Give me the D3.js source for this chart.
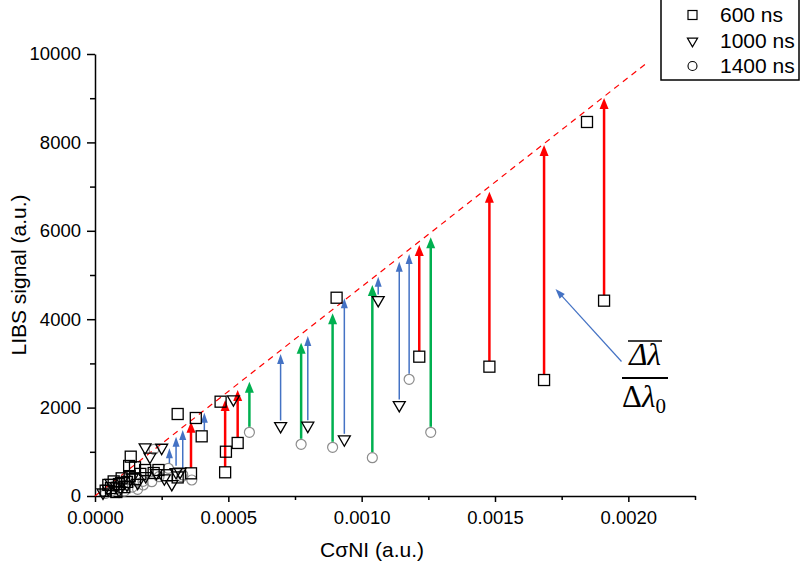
<!DOCTYPE html>
<html>
<head>
<meta charset="utf-8">
<script src="https://cdn.jsdelivr.net/npm/d3@7"></script>
<style>
  body { margin: 0; background: #fff; }
  svg { display: block; font-family: "Liberation Sans", Arial, sans-serif; }
</style>
</head>
<body>
<div id="chart"></div>
<script>
// 600 ns squares
const sqX = [0.000040, 0.000050, 0.000060, 0.000070, 0.000080, 0.000090, 0.000100, 0.000110, 0.000120, 0.000130,
  0.000150, 0.000170, 0.000220, 0.000270, 0.000310, 0.000134, 0.000128, 0.000188, 0.000238, 0.000150,
  0.000310, 0.000378, 0.000360, 0.000400, 0.000471, 0.000488, 0.000491, 0.000535, 0.000906, 0.001216,
  0.001479, 0.001684, 0.001845, 0.001909];
const sqY = [120, 250, 180, 330, 90, 270, 400, 200, 320, 450,
  380, 500, 520, 470, 420, 890, 679, 588, 588, 650,
  1855, 1765, 513, 1350, 2134, 536, 1002, 1200, 4486, 3152,
  2926, 2624, 8462, 4419];

// 1000 ns triangles
const triX = [0.000030, 0.000050, 0.000060, 0.000080, 0.000090, 0.000100, 0.000120, 0.000140, 0.000160, 0.000190,
  0.000188, 0.000250, 0.000206, 0.000288, 0.000319, 0.000230, 0.000304, 0.000260,
  0.000519, 0.000696, 0.000798, 0.000935, 0.001062, 0.001141];
const triY = [80, 160, 300, 220, 130, 340, 260, 420, 300, 450,
  1102, 1093, 890, 271, 550, 520, 540, 400,
  2188, 1584, 1591, 1283, 4434, 2059];

// 1400 ns circles
const cirX = [0.000040, 0.000060, 0.000070, 0.000090, 0.000110, 0.000120, 0.000140, 0.000160, 0.000180, 0.000181,
  0.000213, 0.000240, 0.000221, 0.000275, 0.000363, 0.000325, 0.000329,
  0.000579, 0.000773, 0.000891, 0.001040, 0.001178, 0.001259];
const cirY = [60, 100, 220, 160, 110, 380, 200, 150, 330, 249,
  324, 437, 1057, 627, 362, 437, 480,
  1441, 1170, 1102, 867, 2640, 1441];

// arrows: x, start value, end value
const redX = [0.000360, 0.000488, 0.000535, 0.001216, 0.001479, 0.001684, 0.001909];
const redY0 = [513, 536, 1207, 3152, 2926, 2624, 4419];
const redY1 = [1681, 2172, 2398, 5679, 6885, 7941, 9005];

const greenX = [0.000579, 0.000773, 0.000891, 0.001040, 0.001259];
const greenY0 = [1441, 1170, 1102, 867, 1441];
const greenY1 = [2587, 3469, 4133, 4774, 5852];

const blueX = [0.000279, 0.000304, 0.000329, 0.000410, 0.000696, 0.000798, 0.000935, 0.001062, 0.001141, 0.001178];
const blueY0 = [600, 560, 500, 1364, 1584, 1591, 1283, 4434, 2059, 2640];
const blueY1 = [1078, 1342, 1493, 1885, 3213, 3620, 4473, 4962, 5301, 5475];

// dashed reference line
const refX = [0, 0.00207];
const refY = [0, 9800];

const xMajor = [0, 0.0005, 0.0010, 0.0015, 0.0020];
const xMinor = [0.00025, 0.00075, 0.00125, 0.00175, 0.00225];
const yMajor = [0, 2000, 4000, 6000, 8000, 10000];
const yMinor = [1000, 3000, 5000, 7000, 9000];

const legendLabels = ["600 ns", "1000 ns", "1400 ns"];

const W = 800, H = 569;
const margin = {top: 54, right: 105, bottom: 73, left: 95};

const svg = d3.select("#chart").append("svg")
  .attr("width", W).attr("height", H);

const x = d3.scaleLinear().domain([0, 0.00225]).range([margin.left, W - margin.right]);
const y = d3.scaleLinear().domain([0, 10000]).range([H - margin.bottom - 0, margin.top]);
const y0px = y(0);

// axes
const xAxis = svg.append("g")
  .attr("transform", `translate(0, ${y0px})`)
  .call(d3.axisBottom(x).tickValues(xMajor).tickFormat(d3.format(".4f"))
    .tickSize(6).tickPadding(9).tickSizeOuter(0));
svg.append("g")
  .attr("transform", `translate(0, ${y0px})`)
  .call(d3.axisBottom(x).tickValues(xMinor).tickFormat("").tickSize(4).tickSizeOuter(0))
  .select(".domain").remove();

const yAxis = svg.append("g")
  .attr("transform", `translate(${margin.left}, 0)`)
  .call(d3.axisLeft(y).tickValues(yMajor).tickFormat(d => d)
    .tickSize(8).tickPadding(6).tickSizeOuter(0));
svg.append("g")
  .attr("transform", `translate(${margin.left}, 0)`)
  .call(d3.axisLeft(y).tickValues(yMinor).tickFormat("").tickSize(5).tickSizeOuter(0))
  .select(".domain").remove();

svg.selectAll(".tick text").style("font-size", "18.5px").style("fill", "#000")
  .style("font-family", '"Liberation Sans", Arial, sans-serif');
svg.selectAll(".domain, .tick line").attr("stroke", "#000").attr("stroke-width", 1.5);

// axis titles
svg.append("text")
  .attr("x", 372).attr("y", 557)
  .attr("text-anchor", "middle")
  .style("font-size", "21px")
  .text("CσNI (a.u.)");

svg.append("text")
  .attr("transform", `translate(26, ${(margin.top + y0px) / 2}) rotate(-90)`)
  .attr("text-anchor", "middle")
  .style("font-size", "21px")
  .text("LIBS signal (a.u.)");

// dashed line
svg.append("path")
  .datum(refX.map((d, i) => [d, refY[i]]))
  .attr("fill", "none")
  .attr("stroke", "#ff0000")
  .attr("stroke-width", 1.2)
  .attr("stroke-dasharray", "6,5")
  .attr("d", d3.line().x(d => x(d[0])).y(d => y(d[1])));

// vertical arrows
function drawArrows(xs, ys0, ys1, color, width, headW, headL) {
  const g = svg.append("g");
  const data = xs.map((d, i) => ({x: d, y0: ys0[i], y1: ys1[i]}));
  g.selectAll("line").data(data).enter().append("line")
    .attr("x1", d => x(d.x)).attr("x2", d => x(d.x))
    .attr("y1", d => y(d.y0) - 5.5)
    .attr("y2", d => y(d.y1) + headL - 1)
    .attr("stroke", color).attr("stroke-width", width);
  g.selectAll("path").data(data).enter().append("path")
    .attr("d", d => {
      const cx = x(d.x), ty = y(d.y1);
      return `M${cx},${ty} L${cx - headW / 2},${ty + headL} L${cx + headW / 2},${ty + headL} Z`;
    })
    .attr("fill", color);
}
drawArrows(blueX, blueY0, blueY1, "#4472c4", 1.5, 7, 10);
drawArrows(greenX, greenY0, greenY1, "#00b050", 2.5, 9, 11);
drawArrows(redX, redY0, redY1, "#ff0000", 2.5, 9, 11);

// markers
const tri = d3.symbol().type(d3.symbolTriangle).size(62);
svg.append("g").selectAll("circle")
  .data(cirX.map((d, i) => [d, cirY[i]])).enter().append("circle")
  .attr("cx", d => x(d[0])).attr("cy", d => y(d[1])).attr("r", 5)
  .attr("fill", "none").attr("stroke", "#8c8c8c").attr("stroke-width", 1.2);
svg.append("g").selectAll("path")
  .data(triX.map((d, i) => [d, triY[i]])).enter().append("path")
  .attr("d", tri)
  .attr("transform", d => `translate(${x(d[0])}, ${y(d[1])}) rotate(180)`)
  .attr("fill", "none").attr("stroke", "#000").attr("stroke-width", 1.3);
svg.append("g").selectAll("rect")
  .data(sqX.map((d, i) => [d, sqY[i]])).enter().append("rect")
  .attr("x", d => x(d[0]) - 5.5).attr("y", d => y(d[1]) - 5.5)
  .attr("width", 11).attr("height", 11)
  .attr("fill", "none").attr("stroke", "#000").attr("stroke-width", 1.3);

// annotation arrow
const annot = svg.append("g");
const ax1 = 621.5, ay1 = 361.5, ax2 = 555.5, ay2 = 289;
const ang = Math.atan2(ay2 - ay1, ax2 - ax1);
annot.append("line")
  .attr("x1", ax1).attr("y1", ay1)
  .attr("x2", ax2 - 9 * Math.cos(ang)).attr("y2", ay2 - 9 * Math.sin(ang))
  .attr("stroke", "#4472c4").attr("stroke-width", 1.2);
annot.append("path")
  .attr("d", "M0,0 L-10,-3.5 L-10,3.5 Z")
  .attr("transform", `translate(${ax2},${ay2}) rotate(${ang * 180 / Math.PI})`)
  .attr("fill", "#4472c4");

const frac = svg.append("g").style("font-family", '"Liberation Serif", "DejaVu Serif", serif');
frac.append("text")
  .attr("x", 645).attr("y", 365)
  .attr("text-anchor", "middle")
  .style("font-size", "31px").style("font-style", "italic")
  .text("Δλ");
frac.append("line")
  .attr("x1", 628).attr("x2", 662).attr("y1", 341).attr("y2", 341)
  .attr("stroke", "#000").attr("stroke-width", 1.5);
frac.append("line")
  .attr("x1", 622).attr("x2", 668).attr("y1", 378).attr("y2", 378)
  .attr("stroke", "#000").attr("stroke-width", 2);
const den = frac.append("text")
  .attr("x", 622).attr("y", 407)
  .style("font-size", "31px");
den.append("tspan").text("Δ");
den.append("tspan").style("font-style", "italic").text("λ");
den.append("tspan").attr("dy", 6).style("font-size", "21px").text("0");

// legend
const lg = svg.append("g");
lg.append("rect").attr("x", 661).attr("y", -1).attr("width", 138).attr("height", 81)
  .attr("fill", "#fff").attr("stroke", "#000").attr("stroke-width", 1.5);
const legY = [15, 41, 66];
lg.append("rect").attr("x", 688).attr("y", legY[0] - 4.5).attr("width", 9).attr("height", 9)
  .attr("fill", "none").attr("stroke", "#000").attr("stroke-width", 1.2);
lg.append("path").attr("d", d3.symbol().type(d3.symbolTriangle).size(45))
  .attr("transform", `translate(692.5, ${legY[1]}) rotate(180)`)
  .attr("fill", "none").attr("stroke", "#000").attr("stroke-width", 1.2);
lg.append("circle").attr("cx", 692.5).attr("cy", legY[2]).attr("r", 4.5)
  .attr("fill", "none").attr("stroke", "#000").attr("stroke-width", 1.1);
lg.selectAll("text.leg").data(legendLabels).enter().append("text")
  .attr("class", "leg")
  .attr("x", 720).attr("y", (d, i) => legY[i] + 7)
  .style("font-size", "21px")
  .text(d => d);
</script>
</body>
</html>
